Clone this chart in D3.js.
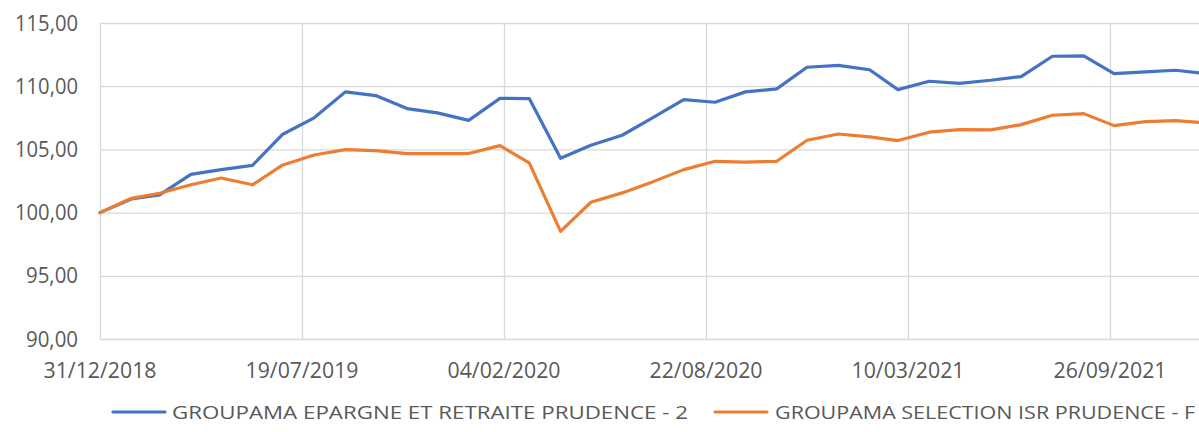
<!DOCTYPE html>
<html>
<head>
<meta charset="utf-8">
<script src="https://cdn.jsdelivr.net/npm/d3@7"></script>
<style>
  body { margin: 0; background: #fff; }
  text { font-family: "Open Sans", sans-serif; fill: #595959; }
</style>
</head>
<body>
<div id="chart-container"></div>
<script>
// month-end dates of the series
const dates = [
  "2018-12-31","2019-01-31","2019-02-28","2019-03-31","2019-04-30","2019-05-31","2019-06-30",
  "2019-07-31","2019-08-31","2019-09-30","2019-10-31","2019-11-30","2019-12-31",
  "2020-01-31","2020-02-29","2020-03-31","2020-04-30","2020-05-31","2020-06-30",
  "2020-07-31","2020-08-31","2020-09-30","2020-10-31","2020-11-30","2020-12-31",
  "2021-01-31","2021-02-28","2021-03-31","2021-04-30","2021-05-31","2021-06-30",
  "2021-07-31","2021-08-31","2021-09-30","2021-10-31","2021-11-30","2021-12-31"
];
const epargne = [100.00, 101.08, 101.40, 103.03, 103.40, 103.74, 106.20, 107.50, 109.55, 109.26,
  108.23, 107.89, 107.30, 109.04, 109.02, 104.30, 105.33, 106.12, 107.50, 108.94, 108.73, 109.55,
  109.79, 111.50, 111.65, 111.30, 109.73, 110.39, 110.23, 110.47, 110.76, 112.37, 112.40, 111.00,
  111.13, 111.26, 110.98];
const selection = [100.00, 101.13, 101.53, 102.20, 102.74, 102.20, 103.77, 104.56, 104.98, 104.90,
  104.67, 104.67, 104.67, 105.30, 103.93, 98.52, 100.82, 101.56, 102.43, 103.40, 104.06, 104.00,
  104.06, 105.72, 106.22, 105.99, 105.70, 106.36, 106.57, 106.54, 106.96, 107.70, 107.83, 106.88,
  107.20, 107.28, 107.09];
const seriesNames = ["GROUPAMA EPARGNE ET RETRAITE PRUDENCE - 2", "GROUPAMA SELECTION ISR PRUDENCE - F"];
const xTicks = ["2018-12-31","2019-07-19","2020-02-04","2020-08-22","2021-03-10","2021-09-26"];
const yTicks = [90, 95, 100, 105, 110, 115];

const svgWidth = 1199;
const svgHeight = 432;
const colors = ["#4472C4", "#ED7D31"];

const svg = d3.select("#chart-container")
    .append("svg")
    .attr("width", svgWidth)
    .attr("height", svgHeight);

const parse = d3.utcParse("%Y-%m-%d");
const fmt = d3.utcFormat("%d/%m/%Y");

// 200 days = 202 px, axis starts at x=100 and runs past the right edge
const x = d3.scaleUtc()
    .domain([parse("2018-12-31"), parse("2021-12-31")])
    .range([100, 100 + 1096 * 1.01]);
const y = d3.scaleLinear()
    .domain([90, 115])
    .range([339, 23]);

// horizontal gridlines
svg.append("g")
    .selectAll("line")
    .data(yTicks)
    .join("line")
    .attr("x1", 100)
    .attr("x2", svgWidth)
    .attr("y1", d => y(d) + 0.5)
    .attr("y2", d => y(d) + 0.5)
    .attr("stroke", "#d9d9d9")
    .attr("stroke-width", 1.3);

// vertical gridlines
svg.append("g")
    .selectAll("line")
    .data(xTicks)
    .join("line")
    .attr("x1", d => Math.round(x(parse(d))) + 0.5)
    .attr("x2", d => Math.round(x(parse(d))) + 0.5)
    .attr("y1", y(115))
    .attr("y2", y(90))
    .attr("stroke", "#d9d9d9")
    .attr("stroke-width", 1.3);

// y labels
svg.append("g")
    .selectAll("text")
    .data(yTicks)
    .join("text")
    .attr("x", 78)
    .attr("y", d => y(d))
    .attr("dy", "0.36em")
    .attr("text-anchor", "end")
    .attr("textLength", d => d >= 100 ? 63 : 52)
    .attr("lengthAdjust", "spacingAndGlyphs")
    .style("font-size", "21px")
    .text(d => d3.format(".2f")(d).replace(".", ","));

// x labels
svg.append("g")
    .selectAll("text")
    .data(xTicks)
    .join("text")
    .attr("x", d => x(parse(d)))
    .attr("y", 378)
    .attr("text-anchor", "middle")
    .attr("textLength", 113)
    .attr("lengthAdjust", "spacingAndGlyphs")
    .style("font-size", "21px")
    .text(d => fmt(parse(d)));

// lines
const line = d3.line()
    .x((d, i) => x(parse(dates[i])))
    .y(d => y(d));

[epargne, selection].forEach(function (vals, k) {
    svg.append("path")
        .datum(vals)
        .attr("d", line)
        .attr("fill", "none")
        .attr("stroke", colors[k])
        .attr("stroke-width", 3.2)
        .attr("stroke-linejoin", "round")
        .attr("stroke-linecap", "round");
});

// legend
const legendPos = [{ sx: 113, tx: 172, w: 516 }, { sx: 715, tx: 775, w: 420 }];
seriesNames.forEach(function (name, k) {
    const p = legendPos[k];
    svg.append("line")
        .attr("x1", p.sx).attr("x2", p.sx + 52)
        .attr("y1", 412).attr("y2", 412)
        .attr("stroke", colors[k])
        .attr("stroke-width", 3.2)
        .attr("stroke-linecap", "round");
    svg.append("text")
        .attr("x", p.tx)
        .attr("y", 412)
        .attr("dy", "0.35em")
        .attr("textLength", p.w)
        .attr("lengthAdjust", "spacingAndGlyphs")
        .style("font-size", "19px")
        .text(name);
});
</script>
</body>
</html>
